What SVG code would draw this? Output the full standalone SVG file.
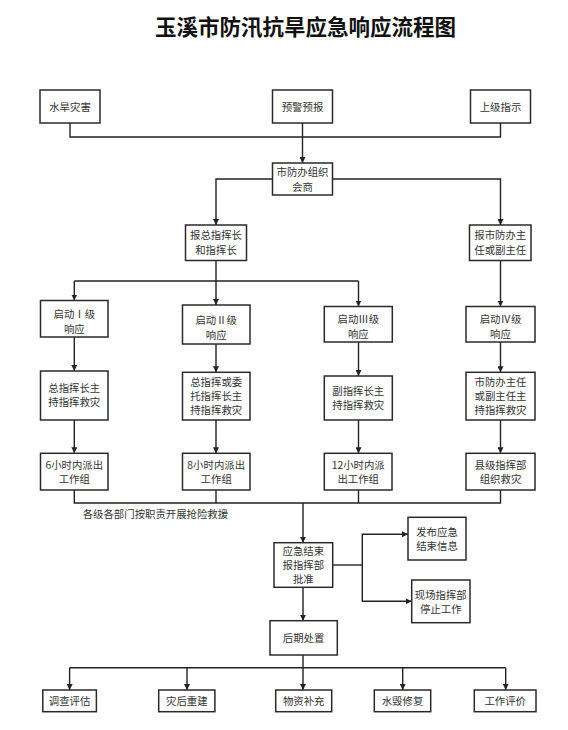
<svg xmlns="http://www.w3.org/2000/svg" width="568" height="730" viewBox="0 0 568 730">
<defs>
<marker id="arr" markerUnits="userSpaceOnUse" markerWidth="7" markerHeight="6" refX="6" refY="3" orient="auto">
<path d="M0,0 L6,3 L0,6 z" fill="#222"/>
</marker>
<style>
.box{fill:#fff;stroke:#2a2a2a;stroke-width:1.5}
.t{font-family:"Noto Sans CJK SC","Noto Sans",sans-serif;font-size:10.4px;fill:#333;text-anchor:middle}
.lab{font-family:"Noto Sans CJK SC","Noto Sans",sans-serif;font-size:10.4px;fill:#333}
.ln{fill:none;stroke:#222;stroke-width:1.4}
.a{fill:none;stroke:#222;stroke-width:1.4;marker-end:url(#arr)}
.title{font-family:"Liberation Serif","Noto Sans CJK SC",serif;font-size:21.5px;font-weight:bold;fill:#111;text-anchor:middle}
</style>
</defs>
<rect width="568" height="730" fill="#fff"/>
<text class="title" x="305.5" y="34.5">玉溪市防汛抗旱应急响应流程图</text>

<g id="connectors">
<polyline class="ln" points="70,123 70,137 500.5,137 500.5,123"/>
<line class="a" x1="302.5" y1="123" x2="302.5" y2="163"/>
<polyline class="a" points="272.5,179 216,179 216,225"/>
<polyline class="a" points="332.5,179 500.5,179 500.5,225"/>
<line class="ln" x1="216" y1="260.5" x2="216" y2="281"/>
<line class="ln" x1="74.3" y1="281" x2="358.5" y2="281"/>
<line class="a" x1="74.3" y1="281" x2="74.3" y2="300.5"/>
<line class="a" x1="216" y1="281" x2="216" y2="305"/>
<line class="a" x1="358.5" y1="281" x2="358.5" y2="306.5"/>
<line class="a" x1="500.5" y1="260.5" x2="500.5" y2="306.5"/>
<line class="a" x1="74.3" y1="337" x2="74.3" y2="371"/>
<line class="a" x1="216" y1="344" x2="216" y2="372.3"/>
<line class="a" x1="358.5" y1="342" x2="358.5" y2="376"/>
<line class="a" x1="500.5" y1="342" x2="500.5" y2="372.3"/>
<line class="a" x1="74.3" y1="420" x2="74.3" y2="453.3"/>
<line class="a" x1="216" y1="420" x2="216" y2="453.3"/>
<line class="a" x1="358.5" y1="420" x2="358.5" y2="453.3"/>
<line class="a" x1="500.5" y1="420" x2="500.5" y2="453.3"/>
<polyline class="ln" points="74.3,490 74.3,503 500.5,503 500.5,490"/>
<line class="ln" x1="216" y1="490" x2="216" y2="503"/>
<line class="ln" x1="358.5" y1="490" x2="358.5" y2="503"/>
<line class="a" x1="303" y1="503" x2="303" y2="542.7"/>
<line class="ln" x1="332.7" y1="565" x2="362.3" y2="565"/>
<polyline class="a" points="362.3,565 362.3,534.3 408,534.3"/>
<polyline class="a" points="362.3,565 362.3,601.3 411.7,601.3"/>
<line class="a" x1="303" y1="587.3" x2="303" y2="620.7"/>
<line class="ln" x1="303" y1="655" x2="303" y2="667.7"/>
<line class="ln" x1="69.6" y1="667.7" x2="505.7" y2="667.7"/>
<line class="a" x1="69.6" y1="667.7" x2="69.6" y2="690"/>
<line class="a" x1="187" y1="667.7" x2="187" y2="690"/>
<line class="a" x1="303" y1="667.7" x2="303" y2="690"/>
<line class="a" x1="402.7" y1="667.7" x2="402.7" y2="690"/>
<line class="a" x1="505.7" y1="667.7" x2="505.7" y2="690"/>
<text class="lab" x="82.7" y="518">各级各部门按职责开展抢险救援</text>
</g>

<g id="n1"><rect class="box" x="40" y="90" width="60" height="33"/><text class="t" x="70" y="110.5">水旱灾害</text></g>
<g id="n2"><rect class="box" x="272.5" y="90" width="60" height="33"/><text class="t" x="302.5" y="110.5">预警预报</text></g>
<g id="n3"><rect class="box" x="470.5" y="90" width="60" height="33"/><text class="t" x="500.5" y="110.5">上级指示</text></g>
<g id="n4"><rect class="box" x="272.5" y="163" width="60" height="32"/><text class="t" x="302.5" y="176">市防办组织</text><text class="t" x="302.5" y="190.5">会商</text></g>
<g id="n5"><rect class="box" x="185.5" y="225" width="61" height="35.5"/><text class="t" x="216" y="239">报总指挥长</text><text class="t" x="216" y="253.5">和指挥长</text></g>
<g id="n6"><rect class="box" x="469.5" y="225" width="61.5" height="35.5"/><text class="t" x="500.3" y="239">报市防办主</text><text class="t" x="500.3" y="253.5">任或副主任</text></g>
<g id="n7"><rect class="box" x="40.5" y="300.5" width="67.5" height="36.5"/><text class="t" x="74.3" y="318">启动Ⅰ级</text><text class="t" x="74.3" y="333">响应</text></g>
<g id="n8"><rect class="box" x="182.5" y="305" width="67.5" height="39"/><text class="t" x="216.2" y="324">启动Ⅱ级</text><text class="t" x="216.2" y="339">响应</text></g>
<g id="n9"><rect class="box" x="324.3" y="306.5" width="68" height="35.5"/><text class="t" x="358.3" y="323.3">启动Ⅲ级</text><text class="t" x="358.3" y="337.5">响应</text></g>
<g id="n10"><rect class="box" x="466" y="306.5" width="69" height="35.5"/><text class="t" x="500.5" y="323.3">启动Ⅳ级</text><text class="t" x="500.5" y="337.5">响应</text></g>
<g id="n11"><rect class="box" x="40.5" y="371" width="67.5" height="49"/><text class="t" x="74.3" y="392">总指挥长主</text><text class="t" x="74.3" y="406">持指挥救灾</text></g>
<g id="n12"><rect class="box" x="182.5" y="372.3" width="67.5" height="47.7"/><text class="t" x="216.2" y="386">总指挥或委</text><text class="t" x="216.2" y="400">托指挥长主</text><text class="t" x="216.2" y="414">持指挥救灾</text></g>
<g id="n13"><rect class="box" x="324.3" y="376" width="68" height="44"/><text class="t" x="358.3" y="395">副指挥长主</text><text class="t" x="358.3" y="409">持指挥救灾</text></g>
<g id="n14"><rect class="box" x="466" y="372.3" width="69" height="47.7"/><text class="t" x="500.5" y="386">市防办主任</text><text class="t" x="500.5" y="400">或副主任主</text><text class="t" x="500.5" y="414">持指挥救灾</text></g>
<g id="n15"><rect class="box" x="40.5" y="453.3" width="67.5" height="36.7"/><text class="t" x="74.3" y="469">6小时内派出</text><text class="t" x="74.3" y="483.3">工作组</text></g>
<g id="n16"><rect class="box" x="182.5" y="453.3" width="67.5" height="36.7"/><text class="t" x="216.2" y="469">8小时内派出</text><text class="t" x="216.2" y="483.3">工作组</text></g>
<g id="n17"><rect class="box" x="324.3" y="453.3" width="67.7" height="36.7"/><text class="t" x="358.2" y="469">12小时内派</text><text class="t" x="358.2" y="483.3">出工作组</text></g>
<g id="n18"><rect class="box" x="466" y="453.3" width="69" height="36.7"/><text class="t" x="500.5" y="469">县级指挥部</text><text class="t" x="500.5" y="483.3">组织救灾</text></g>
<g id="n19"><rect class="box" x="274" y="542.7" width="58.7" height="44.6"/><text class="t" x="303.3" y="554.7">应急结束</text><text class="t" x="303.3" y="569">报指挥部</text><text class="t" x="303.3" y="583.3">批准</text></g>
<g id="n20"><rect class="box" x="408" y="517.3" width="58" height="42.7"/><text class="t" x="437" y="536">发布应急</text><text class="t" x="437" y="550">结束信息</text></g>
<g id="n21"><rect class="box" x="411.7" y="580" width="58.3" height="42.7"/><text class="t" x="440.8" y="598.5">现场指挥部</text><text class="t" x="440.8" y="612.5">停止工作</text></g>
<g id="n22"><rect class="box" x="270" y="620.7" width="67.3" height="34.3"/><text class="t" x="303.6" y="641.5">后期处置</text></g>
<g id="n23"><rect class="box" x="42.8" y="690" width="53.6" height="21.7"/><text class="t" x="69.6" y="704.5">调查评估</text></g>
<g id="n24"><rect class="box" x="158.7" y="690" width="56.2" height="21.7"/><text class="t" x="186.8" y="704.5">灾后重建</text></g>
<g id="n25"><rect class="box" x="275.7" y="690" width="56" height="21.7"/><text class="t" x="303.7" y="704.5">物资补充</text></g>
<g id="n26"><rect class="box" x="374.3" y="690" width="56.4" height="21.7"/><text class="t" x="402.5" y="704.5">水毁修复</text></g>
<g id="n27"><rect class="box" x="474.3" y="690" width="61.7" height="21.7"/><text class="t" x="505.2" y="704.5">工作评价</text></g>
</svg>
